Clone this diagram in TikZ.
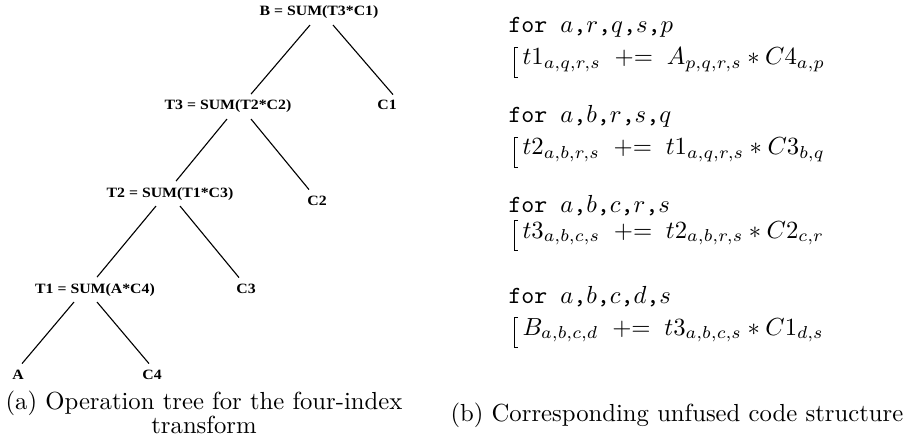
\documentclass[tikz,border=0pt]{standalone}
\usepackage{fontspec}
\newfontfamily\treefont{Liberation Serif}
\usetikzlibrary{calc}
\newcommand{\pluseq}{\;\mathrel{+}=\;}
\tikzset{
  op/.style={inner sep=2.5pt, anchor=base, yscale=0.9, font=\treefont\bfseries\fontsize{6.4}{7.5}\selectfont},
  edge/.style={draw=black, line width=0.45pt},
  loophead/.style={inner sep=0pt, anchor=base west, font=\fontsize{10}{12}\selectfont},
  loopbody/.style={inner sep=0pt, anchor=base west, font=\fontsize{10}{12}\selectfont},
  brk/.style={draw=black, line width=0.4pt},
  subcap/.style={inner sep=0pt, font=\fontsize{10}{10.1}\selectfont},
}
\begin{document}
\begin{tikzpicture}[x=0.405pt, y=-0.405pt]
  \useasboundingbox (0,0) rectangle (904,445);

  % operation tree
  \node[op] (B)  at (319,16)  {B = SUM(T3*C1)};
  \node[op] (T3) at (228,110) {T3 = SUM(T2*C2)};
  \node[op] (C1) at (387,110) {C1};
  \node[op] (T2) at (170,197) {T2 = SUM(T1*C3)};
  \node[op] (C2) at (317,205) {C2};
  \node[op] (T1) at (95,293)  {T1 = SUM(A*C4)};
  \node[op] (C3) at (246,293) {C3};
  \node[op] (A)  at (18,379)  {A};
  \node[op] (C4) at (152,379) {C4};

  \draw[edge] ($(B.south)+(-9,0)$)   -- ($(T3.north)+(23,0)$);
  \draw[edge] ($(B.south)+(14,0)$)   -- ($(C1.north)+(6,0)$);
  \draw[edge] ($(T3.south)+(-1,0)$)  -- ($(T2.north)+(6,0)$);
  \draw[edge] ($(T3.south)+(23,0)$)  -- ($(C2.north)+(-8,0)$);
  \draw[edge] ($(T2.south)+(-14,0)$) -- ($(T1.north)+(2,0)$);
  \draw[edge] ($(T2.south)+(10,0)$)  -- ($(C3.north)+(-7,0)$);
  \draw[edge] ($(T1.south)+(-21,0)$) -- ($(A.north)+(4,0)$);
  \draw[edge] ($(T1.south)+(2,0)$)   -- ($(C4.north)+(-3,0)$);

  % unfused loops
  \node[loophead] (for1) at (508,33)  {\texttt{for $a$,$r$,$q$,$s$,$p$}};
  \node[loopbody] (body1) at (522,65) {$t1_{a,q,r,s} \pluseq A_{p,q,r,s} * C4_{a,p}$};
  \node[loophead] (for2) at (508,123) {\texttt{for $a$,$b$,$r$,$s$,$q$}};
  \node[loopbody] (body2) at (522,155) {$t2_{a,b,r,s} \pluseq t1_{a,q,r,s} * C3_{b,q}$};
  \node[loophead] (for3) at (508,212) {\texttt{for $a$,$b$,$c$,$r$,$s$}};
  \node[loopbody] (body3) at (522,238) {$t3_{a,b,c,s} \pluseq t2_{a,b,r,s} * C2_{c,r}$};
  \node[loophead] (for4) at (508,303) {\texttt{for $a$,$b$,$c$,$d$,$s$}};
  \node[loopbody] (body4) at (522,335) {$B_{a,b,c,d} \pluseq t3_{a,b,c,s} * C1_{d,s}$};
  \foreach \b in {body1,body2,body3,body4}
    \draw[brk] ($(\b.base west)+(-4,-18)$) -- ++(-4,0) -- ++(0,30) -- ++(4,0);

  % captions
  \node[subcap, anchor=north, align=center] (capA) at (204,390) {(a) Operation tree for the four-index\\transform};
  \node[subcap, anchor=base west] (capB) at (450,421) {(b) Corresponding unfused code structure};
\end{tikzpicture}
\end{document}
